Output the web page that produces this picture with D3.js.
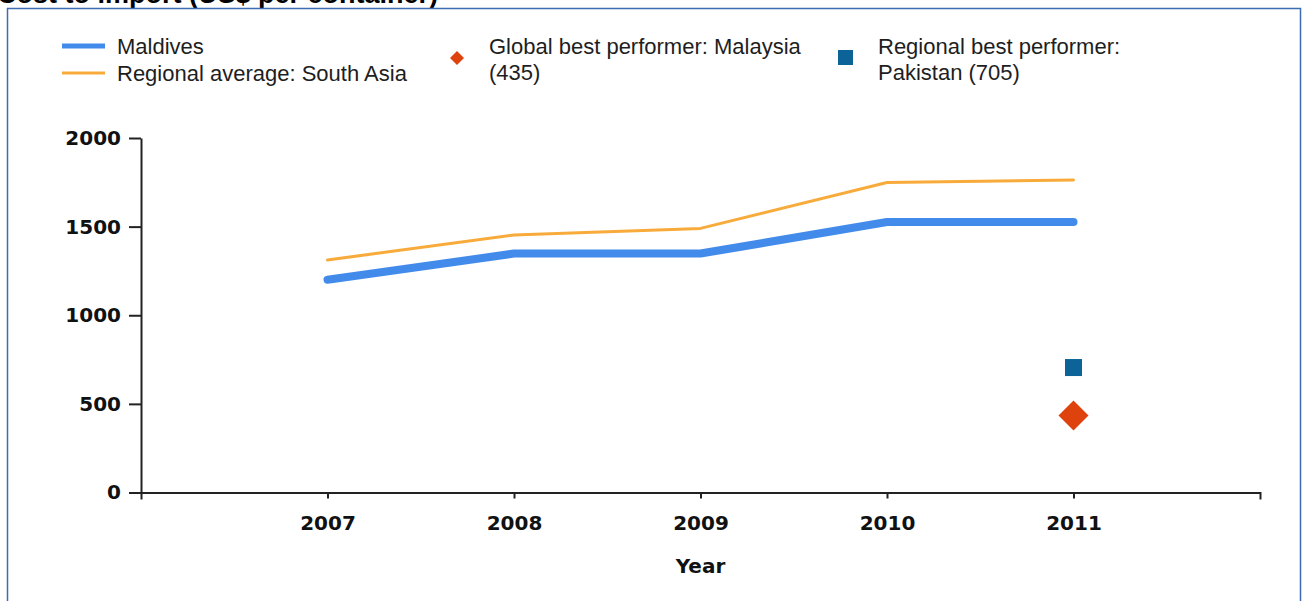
<!DOCTYPE html>
<html>
<head>
<meta charset="utf-8">
<script src="https://cdn.jsdelivr.net/npm/d3@7/dist/d3.min.js"></script>
<style>
  html, body { margin: 0; padding: 0; background: #fff; overflow: hidden; }
  svg { display: block; }
</style>
</head>
<body>
<script>
// Cost to import (US$ per container), Maldives vs. South Asia
const years = [2007, 2008, 2009, 2010, 2011];
const maldives = [1200, 1348, 1348, 1526, 1526];
const southAsia = [1312, 1453, 1490, 1749, 1763];
const yTicks = [0, 500, 1000, 1500, 2000];
const globalBest = { year: 2011, value: 435, label: ["Global best performer: Malaysia", "(435)"] };
const regionalBest = { year: 2011, value: 705, label: ["Regional best performer:", "Pakistan (705)"] };
const seriesNames = ["Maldives", "Regional average: South Asia"];

const W = 1302, H = 601;
const C = {
  blue: "#428beb",
  orange: "#f8ab3a",
  diamond: "#df430d",
  square: "#0b6397",
  frame: "#3c6db2",
  axis: "#222",
  text: "#1e1e1e"
};

const svg = d3.select("body").append("svg").attr("width", W).attr("height", H);

// Title (runs off the top edge of the panel)
svg.append("text")
  .attr("x", -3).attr("y", 3)
  .attr("font-family", "Liberation Sans, Arial, sans-serif")
  .attr("font-weight", "bold").attr("font-size", 27)
  .attr("fill", "#000")
  .text("Cost to import (US$ per container)");

// Panel frame
svg.append("path")
  .attr("d", "M7.5,612 V8.5 H1300.5 V612")
  .attr("fill", "none").attr("stroke", C.frame).attr("stroke-width", 1.5);

const x = d3.scaleLinear().domain([2006, 2012]).range([141, 1260]);
const y = d3.scaleLinear().domain([0, 2000]).range([492.5, 138]);

// Axes
const yAxis = svg.append("g")
  .attr("transform", "translate(141,0)")
  .call(d3.axisLeft(y).tickValues(yTicks).tickSize(12).tickSizeOuter(0).tickPadding(8).tickFormat(d3.format("d")));
const xAxis = svg.append("g")
  .attr("transform", "translate(0,492.5)")
  .call(d3.axisBottom(x).tickValues(years).tickSize(6).tickSizeOuter(7).tickPadding(17).tickFormat(d3.format("d")));

[yAxis, xAxis].forEach(g => {
  g.select(".domain").attr("stroke", C.axis).attr("stroke-width", 2);
  g.selectAll(".tick line").attr("stroke", C.axis).attr("stroke-width", 2);
  g.selectAll(".tick text")
    .attr("font-family", "DejaVu Sans, Verdana, sans-serif")
    .attr("font-weight", "bold").attr("font-size", 20)
    .attr("fill", "#111");
});

svg.append("text")
  .attr("x", x(2009)).attr("y", 573)
  .attr("text-anchor", "middle")
  .attr("font-family", "DejaVu Sans, Verdana, sans-serif")
  .attr("font-weight", "bold").attr("font-size", 20)
  .attr("fill", "#111")
  .text("Year");

// Lines
const line = d3.line().x(d => x(d[0])).y(d => y(d[1]));
svg.append("path")
  .datum(years.map((yr, i) => [yr, southAsia[i]]))
  .attr("d", line)
  .attr("fill", "none").attr("stroke", C.orange).attr("stroke-width", 3)
  .attr("stroke-linejoin", "round").attr("stroke-linecap", "round");
svg.append("path")
  .datum(years.map((yr, i) => [yr, maldives[i]]))
  .attr("d", line)
  .attr("fill", "none").attr("stroke", C.blue).attr("stroke-width", 8)
  .attr("stroke-linejoin", "round").attr("stroke-linecap", "round");

// Best performer markers
const sq = 17;
svg.append("rect")
  .attr("x", x(regionalBest.year) - sq / 2).attr("y", y(regionalBest.value) - sq / 2)
  .attr("width", sq).attr("height", sq)
  .attr("fill", C.square);
const dr = 15;
svg.append("path")
  .attr("transform", `translate(${x(globalBest.year)},${y(globalBest.value)})`)
  .attr("d", `M0,${-dr} L${dr},0 L0,${dr} L${-dr},0 Z`)
  .attr("fill", C.diamond);

// Legend
const lg = svg.append("g")
  .attr("font-family", "Liberation Sans, Arial, sans-serif")
  .attr("font-size", 22).attr("fill", C.text);

lg.append("line").attr("x1", 62).attr("x2", 105).attr("y1", 46).attr("y2", 46)
  .attr("stroke", C.blue).attr("stroke-width", 5);
lg.append("text").attr("x", 117).attr("y", 54).text(seriesNames[0]);
lg.append("line").attr("x1", 62).attr("x2", 105).attr("y1", 73).attr("y2", 73)
  .attr("stroke", C.orange).attr("stroke-width", 3);
lg.append("text").attr("x", 117).attr("y", 81).text(seriesNames[1]);

const ld = 7;
lg.append("path")
  .attr("transform", "translate(457,58)")
  .attr("d", `M0,${-ld} L${ld},0 L0,${ld} L${-ld},0 Z`)
  .attr("fill", C.diamond);
globalBest.label.forEach((t, i) => {
  lg.append("text").attr("x", 489).attr("y", 54 + i * 26).text(t);
});

lg.append("rect").attr("x", 838).attr("y", 50).attr("width", 15).attr("height", 15)
  .attr("fill", C.square);
regionalBest.label.forEach((t, i) => {
  lg.append("text").attr("x", 878).attr("y", 54 + i * 26).text(t);
});
</script>
</body>
</html>
